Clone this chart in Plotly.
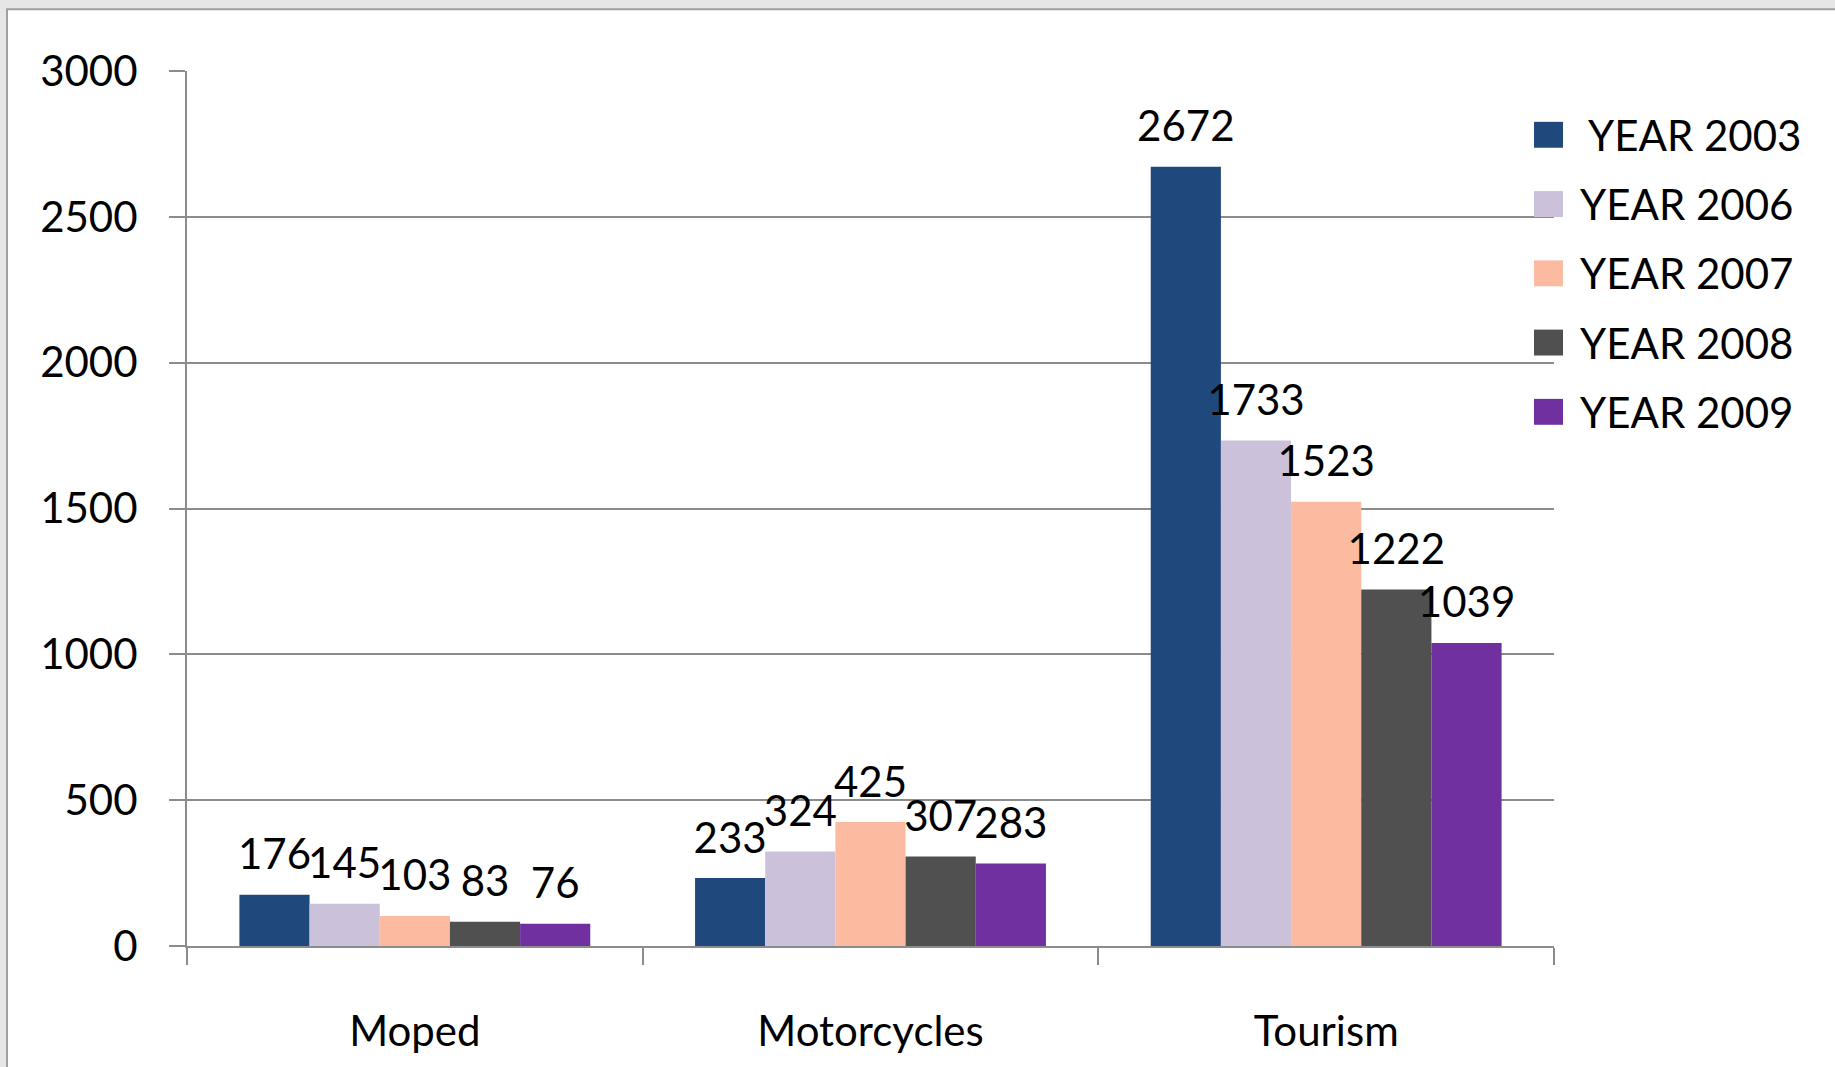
import plotly.graph_objects as go

categories = ["Moped", "Motorcycles", "Tourism"]
series_names = ["YEAR 2003", "YEAR 2006", "YEAR 2007", "YEAR 2008", "YEAR 2009"]
values_2003 = [176, 233, 2672]
values_2006 = [145, 324, 1733]
values_2007 = [103, 425, 1523]
values_2008 = [83, 307, 1222]
values_2009 = [76, 283, 1039]
series_values = [values_2003, values_2006, values_2007, values_2008, values_2009]
colors = ["#1F497D", "#CCC1DA", "#FCBBA1", "#505050", "#7030A0"]
y_ticks = [0, 500, 1000, 1500, 2000, 2500, 3000]

W, H = 1835, 1067
L, R, T, B = 187, 281, 71, 118
PW, PH = W - L - R, H - T - B
FONT = "Lato"
FS = 42
GRID = "#8c8c8c"


def px_x(px):
    return (px - L) / PW


def px_y(py):
    return (H - B - py) / PH


fig = go.Figure()
for name, vals, col in zip(series_names, series_values, colors):
    fig.add_trace(go.Bar(
        x=categories, y=vals, name=name,
        marker=dict(color=col, line=dict(width=0)),
        texttemplate="<span style='font-size:%dpx'>%%{y}</span><br>\u00a0" % FS,
        textposition="outside",
        textfont=dict(family=FONT, size=15, color="black"),
        constraintext="none", cliponaxis=False, showlegend=False,
    ))

shapes = [
    # white chart area with thin gray frame
    dict(type="rect", xref="paper", yref="paper",
         x0=px_x(7), x1=px_x(W + 10), y0=px_y(H + 10), y1=px_y(9),
         fillcolor="white", line=dict(color="#a0a0a0", width=2), layer="below"),
]
annotations = []
for i, (name, col) in enumerate(zip(series_names, colors)):
    cy = 135 + i * 69.5
    shapes.append(dict(type="rect", xref="paper", yref="paper",
                       x0=px_x(1534), x1=px_x(1563), y0=px_y(cy + 13), y1=px_y(cy - 13),
                       fillcolor=col, line=dict(width=0)))
    annotations.append(dict(xref="paper", yref="paper", x=px_x(1578 + (8 if i == 0 else 0)),
                            y=px_y(cy), xanchor="left", yanchor="middle", showarrow=False,
                            text=name, font=dict(family=FONT, size=FS, color="black")))

fig.update_layout(
    width=W, height=H,
    margin=dict(l=L, r=R, t=T, b=B, pad=0),
    paper_bgcolor="#e6e6e6", plot_bgcolor="rgba(0,0,0,0)",
    barmode="group", bargap=0.23, bargroupgap=0,
    font=dict(family=FONT, size=FS, color="black"),
    showlegend=False,
    shapes=shapes, annotations=annotations,
    xaxis=dict(
        showline=True, linecolor=GRID, linewidth=2,
        ticks="outside", tickson="boundaries", ticklen=17, tickcolor=GRID, tickwidth=2,
        showgrid=False, tickfont=dict(family=FONT, size=FS, color="black"),
        ticklabelstandoff=48,
    ),
    yaxis=dict(
        range=[0, 3000], tickvals=y_ticks, ticktext=[str(v) for v in y_ticks],
        showgrid=True, gridcolor=GRID, gridwidth=2,
        showline=True, linecolor=GRID, linewidth=2,
        ticks="outside", ticklen=16, tickcolor=GRID, tickwidth=2,
        tickfont=dict(family=FONT, size=FS, color="black"),
        ticklabelstandoff=23, zeroline=False,
    ),
)

fig.write_html(
    "out.html",
    config={"displayModeBar": False},
    post_script="document.body.style.margin='0';document.body.style.overflow='hidden';",
)
